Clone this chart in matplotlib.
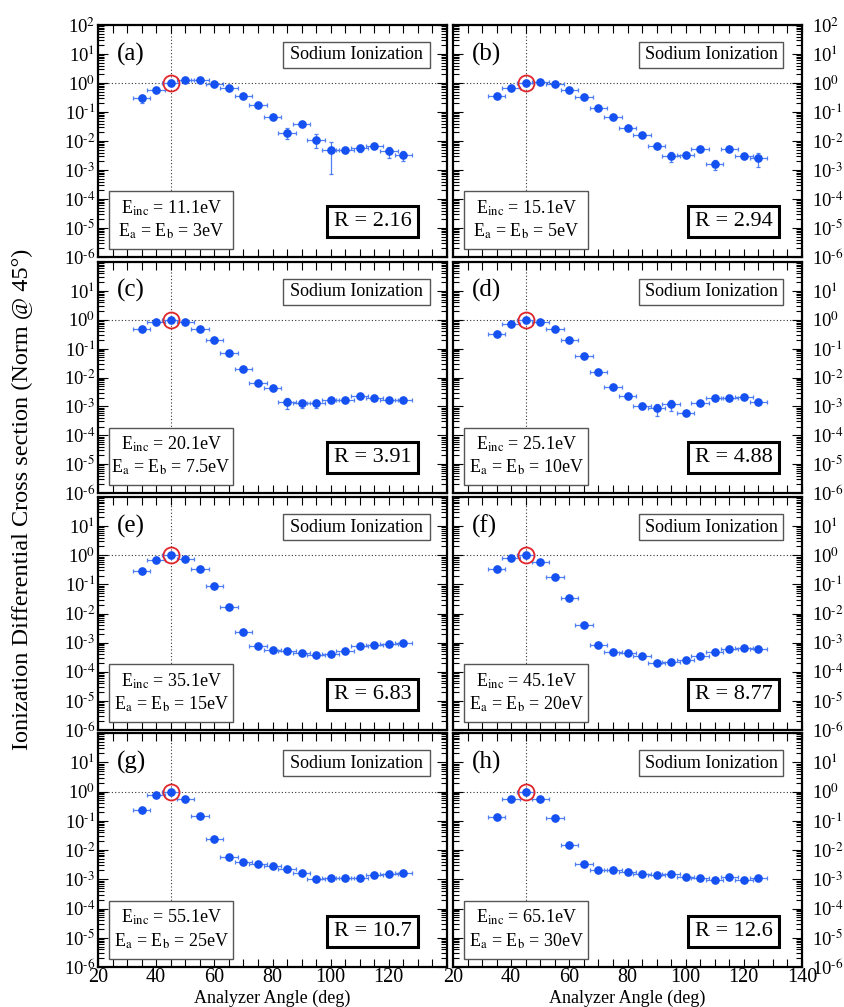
import numpy as np
import matplotlib
matplotlib.use('Agg')
import matplotlib.pyplot as plt
from matplotlib.patches import Rectangle
from matplotlib.ticker import LogLocator, MultipleLocator, NullFormatter, FixedLocator, FixedFormatter

plt.rcParams['font.family'] = ['Liberation Serif', 'DejaVu Serif']
plt.rcParams['mathtext.fontset'] = 'stix'

# ---------------- data ----------------
angles = [35, 40, 45, 50, 55, 60, 65, 70, 75, 80, 85, 90, 95, 100, 105, 110, 115, 120, 125]
angle_err = 3.0
norm_angle = 45

sigma_a = [0.30, 0.58, 1.0, 1.28, 1.32, 0.95, 0.68, 0.35, 0.17, 0.066, 0.0196, 0.039, 0.0112,
           0.0049, 0.0049, 0.0058, 0.0065, 0.0044, 0.0033]
sigma_b = [0.35, 0.68, 1.0, 1.05, 0.90, 0.58, 0.32, 0.138, 0.067, 0.029, 0.016, 0.0066, 0.0031,
           0.0033, 0.0052, 0.0016, 0.0055, 0.0030, 0.0026]
sigma_c = [0.47, 0.85, 1.0, 0.83, 0.47, 0.20, 0.071, 0.020, 0.0063, 0.0045, 0.0014, 0.00126,
           0.00126, 0.00166, 0.0017, 0.0022, 0.0020, 0.0017, 0.0017]
sigma_d = [0.31, 0.72, 1.0, 0.85, 0.49, 0.195, 0.057, 0.015, 0.0046, 0.0022, 0.00105, 0.00085,
           0.00118, 0.0006, 0.00133, 0.0019, 0.0020, 0.00205, 0.00139]
sigma_e = [0.28, 0.71, 1.0, 0.77, 0.33, 0.089, 0.017, 0.0023, 0.00079, 0.00057, 0.00051, 0.00044,
           0.00039, 0.00042, 0.00053, 0.00077, 0.00083, 0.00090, 0.00095]
sigma_f = [0.35, 0.81, 1.0, 0.59, 0.18, 0.033, 0.0040, 0.00085, 0.00049, 0.00044, 0.00034,
           0.000195, 0.00022, 0.00026, 0.00034, 0.00049, 0.00062, 0.00067, 0.00059]
sigma_g = [0.235, 0.75, 1.0, 0.55, 0.142, 0.0245, 0.0056, 0.0039, 0.0034, 0.0028, 0.0022, 0.0017,
           0.00102, 0.00107, 0.00112, 0.00112, 0.00135, 0.00155, 0.00158]
sigma_h = [0.132, 0.56, 1.0, 0.56, 0.129, 0.0148, 0.0033, 0.0020, 0.00205, 0.00178, 0.00155,
           0.00135, 0.00148, 0.00118, 0.0011, 0.00096, 0.00122, 0.00096, 0.00107]

# relative errors
err_a = [0.3, 0.12, 0.08, 0.08, 0.08, 0.1, 0.1, 0.1, 0.1, 0.15, 0.4, 0.15, 0.5, 0.85, 0.2, 0.3, 0.15, 0.4, 0.4]
err_b = [0.1, 0.1, 0.08, 0.08, 0.08, 0.08, 0.1, 0.1, 0.1, 0.1, 0.1, 0.15, 0.4, 0.2, 0.2, 0.35, 0.15, 0.1, 0.5]
err_c = [0.1, 0.08, 0.08, 0.08, 0.08, 0.08, 0.08, 0.08, 0.1, 0.1, 0.4, 0.3, 0.3, 0.1, 0.1, 0.1, 0.1, 0.1, 0.1]
err_d = [0.08, 0.08, 0.08, 0.08, 0.08, 0.08, 0.08, 0.08, 0.1, 0.2, 0.2, 0.45, 0.4, 0.15, 0.1, 0.1, 0.1, 0.1, 0.1]
err_e = [0.08, 0.08, 0.08, 0.08, 0.08, 0.08, 0.08, 0.1, 0.1, 0.1, 0.1, 0.1, 0.1, 0.15, 0.1, 0.1, 0.1, 0.1, 0.1]
err_f = [0.08, 0.08, 0.08, 0.08, 0.08, 0.08, 0.08, 0.1, 0.1, 0.1, 0.1, 0.15, 0.1, 0.1, 0.1, 0.1, 0.1, 0.1, 0.1]
err_g = [0.08, 0.08, 0.08, 0.08, 0.08, 0.08, 0.08, 0.08, 0.08, 0.08, 0.08, 0.1, 0.1, 0.1, 0.1, 0.1, 0.1, 0.1, 0.1]
err_h = [0.08, 0.08, 0.08, 0.08, 0.08, 0.08, 0.08, 0.08, 0.08, 0.08, 0.08, 0.1, 0.1, 0.1, 0.1, 0.1, 0.1, 0.1, 0.1]

panel_labels = ['(a)', '(b)', '(c)', '(d)', '(e)', '(f)', '(g)', '(h)']
E_inc = ['11.1', '15.1', '20.1', '25.1', '35.1', '45.1', '55.1', '65.1']
E_ab = ['3', '5', '7.5', '10', '15', '20', '25', '30']
R_values = ['2.16', '2.94', '3.91', '4.88', '6.83', '8.77', '10.7', '12.6']
title_text = 'Sodium Ionization'
y_ticks = [1e-6, 1e-5, 1e-4, 1e-3, 1e-2, 1e-1, 1e0, 1e1, 1e2]
y_exponents = ['-6', '-5', '-4', '-3', '-2', '-1', '0', '1', '2']
x_ticks = [20, 40, 60, 80, 100, 120, 140]

sigmas = [sigma_a, sigma_b, sigma_c, sigma_d, sigma_e, sigma_f, sigma_g, sigma_h]
errs = [err_a, err_b, err_c, err_d, err_e, err_f, err_g, err_h]
y_ticklabels = [r'$\mathregular{10^{\text{' + ex + '}}}$' for ex in y_exponents]

# ---------------- layout ----------------
FW, FH = 844, 1007
fig = plt.figure(figsize=(FW / 100, FH / 100), dpi=100)
col_left = [98, 453]
col_width = 349
row_top = [25, 262, 497, 733]
row_bot = [257, 493, 730, 967]

blue = '#1550f0'
eblue = '#4f7ff2'
red = '#e0262b'

for i in range(8):
    row, col = divmod(i, 2)
    l = col_left[col] / FW
    b = 1 - row_bot[row] / FH
    h = (row_bot[row] - row_top[row]) / FH
    ax = fig.add_axes([l, b, col_width / FW, h])
    ax.set_yscale('log')
    ax.set_xlim(20, 140)
    ax.set_ylim(1e-6, 1e2)

    v = np.array(sigmas[i])
    e = np.array(errs[i]) * v
    ax.errorbar(angles, v, xerr=angle_err, yerr=e, fmt='o', color=blue, ms=5.2,
                mec=blue, ecolor=eblue, elinewidth=0.9, capsize=1.5, capthick=0.9, zorder=3)
    k = angles.index(norm_angle)
    ax.plot([angles[k]], [v[k]], 'o', mfc='none', mec=red, ms=11.5, mew=1.3, zorder=4)
    ax.axvline(angles[k], color='#333333', ls=(0, (1, 2)), lw=0.8, zorder=1)
    ax.axhline(v[k], color='#333333', ls=(0, (1, 2)), lw=0.8, zorder=1)

    for s in ax.spines.values():
        s.set_linewidth(1.6)

    # ticks
    ax.yaxis.set_major_locator(FixedLocator(y_ticks))
    labs = list(y_ticklabels)
    if row > 0:
        labs[-1] = ''
    ax.yaxis.set_major_formatter(FixedFormatter(labs))
    ax.yaxis.set_minor_locator(LogLocator(base=10, subs=np.arange(2, 10), numticks=20))
    ax.yaxis.set_minor_formatter(NullFormatter())
    ax.xaxis.set_major_locator(FixedLocator(x_ticks))
    ax.xaxis.set_minor_locator(MultipleLocator(5))
    ax.tick_params(which='both', direction='in', top=True, right=True, width=0.8)
    ax.tick_params(axis='x', which='both', length=6)
    ax.tick_params(axis='y', which='major', length=7)
    ax.tick_params(axis='y', which='minor', length=4)
    ax.tick_params(axis='y', labelsize=13.5, labelleft=(col == 0), labelright=(col == 1),
                   pad=(2 if col == 0 else 7.5))
    if row == 3:
        xl = [str(t) for t in x_ticks]
        if col == 0:
            xl[-1] = ''
        ax.xaxis.set_major_formatter(FixedFormatter(xl))
        ax.tick_params(axis='x', labelsize=14.5, pad=1)
        ax.set_xlabel('Analyzer Angle (deg)', fontsize=13, labelpad=2)
    else:
        ax.tick_params(axis='x', labelbottom=False)

    # panel label
    ax.text(0.055, 0.875, panel_labels[i], transform=ax.transAxes, fontsize=18,
            ha='left', va='center')

    # Sodium Ionization box
    sx0, sx1, sy0, sy1 = (0.530, 0.951, 0.815, 0.927) if col == 0 else (0.533, 0.946, 0.815, 0.927)
    ax.add_patch(Rectangle((sx0, sy0), sx1 - sx0, sy1 - sy0, transform=ax.transAxes,
                           facecolor='white', edgecolor='#555555', lw=1.0, zorder=5))
    ax.text((sx0 + sx1) / 2, (sy0 + sy1) / 2, title_text, transform=ax.transAxes,
            fontsize=13, ha='center', va='center', zorder=6)

    # Energy box
    ex0, ex1, ey0, ey1 = (0.032, 0.387, 0.035, 0.283)
    ax.add_patch(Rectangle((ex0, ey0), ex1 - ex0, ey1 - ey0, transform=ax.transAxes,
                           facecolor='white', edgecolor='#555555', lw=1.0, zorder=5))
    ax.text((ex0 + ex1) / 2, ey0 + 0.71 * (ey1 - ey0),
            r'E$_{\mathrm{inc}}$ = ' + E_inc[i] + 'eV', transform=ax.transAxes,
            fontsize=13, ha='center', va='center', zorder=6)
    ax.text((ex0 + ex1) / 2, ey0 + 0.30 * (ey1 - ey0),
            r'E$_{\mathrm{a}}$ = E$_{\mathrm{b}}$ = ' + E_ab[i] + 'eV', transform=ax.transAxes,
            fontsize=13, ha='center', va='center', zorder=6)

    # R box
    rx0, rx1, ry0, ry1 = (0.656, 0.917, 0.085, 0.220) if col == 0 else (0.673, 0.935, 0.085, 0.220)
    ax.add_patch(Rectangle((rx0, ry0), rx1 - rx0, ry1 - ry0, transform=ax.transAxes,
                           facecolor='white', edgecolor='black', lw=2.2, zorder=5))
    ax.text((rx0 + rx1) / 2, (ry0 + ry1) / 2, 'R = ' + R_values[i], transform=ax.transAxes,
            fontsize=16, ha='center', va='center', zorder=6)

fig.text(22 / FW, 1 - 499 / FH, 'Ionization Differential Cross section (Norm @ 45°)',
         rotation=90, ha='center', va='center', fontsize=17.5)

fig.savefig('out.png', dpi=100)
